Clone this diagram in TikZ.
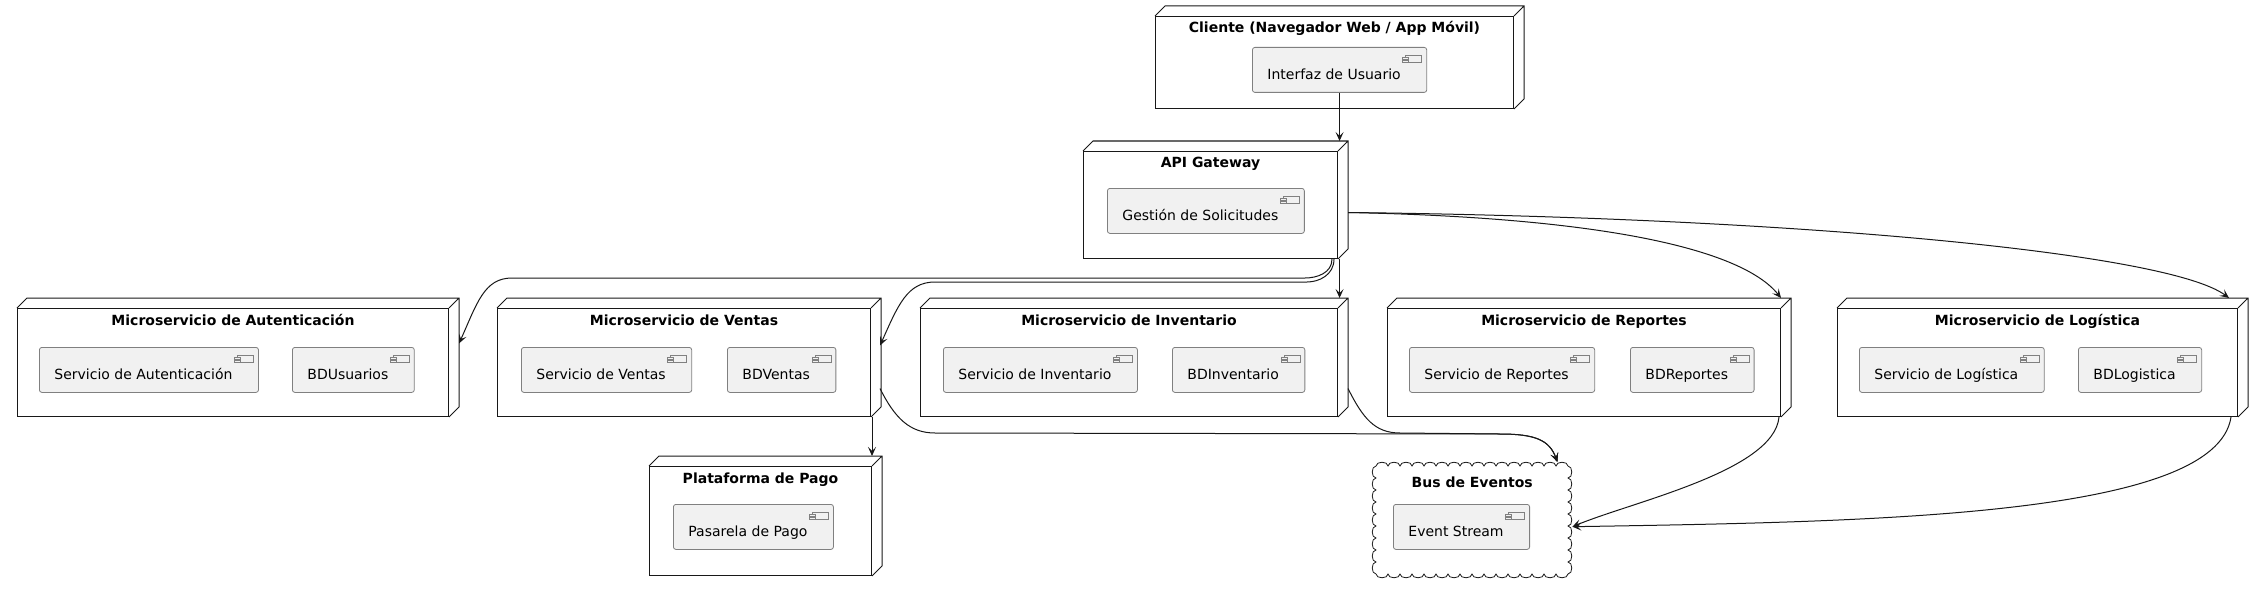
\documentclass[tikz,border=0pt]{standalone}
\usepackage{fontspec}
\setmainfont{DejaVu Sans}
\usetikzlibrary{arrows.meta,calc}
\definecolor{ink}{HTML}{181818}
\definecolor{compfill}{HTML}{F1F1F1}
\definecolor{compline}{HTML}{808080}
\newcommand{\deep}[1]{\draw[ink, line width=1pt] (#1.north west) -- ++(10pt,10pt) -| ([shift={(10pt,10pt)}]#1.south east) -- (#1.south east) (#1.north east) -- ++(10pt,10pt);}
\newcommand{\puff}[1]{\draw[ink, line width=0.8pt] (#1.north west)
  \foreach \k in {1,...,16} { .. controls +(0pt,5pt) and +(0pt,5pt) .. ++(12pt,0pt) }
  \foreach \k in {1,...,9} { .. controls +(5pt,0pt) and +(5pt,0pt) .. ++(0pt,-12pt) }
  \foreach \k in {1,...,16} { .. controls +(0pt,-5pt) and +(0pt,-5pt) .. ++(-12pt,0pt) }
  \foreach \k in {1,...,9} { .. controls +(-5pt,0pt) and +(-5pt,0pt) .. ++(0pt,12pt) } -- cycle;}
\tikzset{
  dnode/.style={draw=ink, line width=1pt, inner sep=0pt, anchor=north west},
  cloudbox/.style={inner sep=0pt, anchor=north west},
  ntitle/.style={anchor=base, inner sep=0pt, font=\bfseries\fontsize{14}{16}\selectfont},
  comp/.style={draw=compline, line width=0.8pt, fill=compfill, rounded corners=2.5pt, anchor=north west, inner sep=0pt,
    text height=32pt, text depth=13pt, execute at begin node=\hspace*{15pt}, execute at end node=\hspace*{26pt},
    path picture={
      \draw[compline, line width=0.7pt, sharp corners] ([shift={(-21pt,-8pt)}]path picture bounding box.north east) rectangle ++(16pt,-7pt);
      \draw[compline, line width=0.7pt, sharp corners, fill=compfill] ([shift={(-24pt,-9.5pt)}]path picture bounding box.north east) rectangle ++(6pt,-2pt);
      \draw[compline, line width=0.7pt, sharp corners, fill=compfill] ([shift={(-24pt,-12.5pt)}]path picture bounding box.north east) rectangle ++(6pt,-2pt);}},
  conn/.style={draw=ink, line width=1pt, -{Stealth[length=9pt,width=8pt,inset=4pt]}}
}
\begin{document}
\begin{tikzpicture}[x=1pt, y=-1pt, font=\fontsize{14}{16}\selectfont]
\useasboundingbox (0,0) rectangle (2261,591);
\node [dnode, minimum width=358, minimum height=92] (cliente) at (1155,16) {};
\deep{cliente}
\node [ntitle] (tcliente) at ([yshift=-17pt]cliente.north) {Cliente (Navegador Web / App Móvil)};
\node [comp] (interfaz) at (1252,47) {Interfaz de Usuario};
\node [dnode, minimum width=254, minimum height=107] (api) at (1083,151) {};
\deep{api}
\node [ntitle] (tapi) at ([yshift=-16pt]api.north) {API Gateway};
\node [comp] (gestion) at (1107,188) {Gestión de Solicitudes};
\node [dnode, minimum width=431, minimum height=108] (auth) at (17,308) {};
\deep{auth}
\node [ntitle] (tauth) at ([yshift=-17pt]auth.north) {Microservicio de Autenticación};
\node [comp] (sauth) at (39,347) {Servicio de Autenticación};
\node [comp] (bdusuarios) at (292,347) {BDUsuarios};
\node [dnode, minimum width=373, minimum height=108] (ventas) at (497,308) {};
\deep{ventas}
\node [ntitle] (tventas) at ([yshift=-17pt]ventas.north) {Microservicio de Ventas};
\node [comp] (sventas) at (521,347) {Servicio de Ventas};
\node [comp] (bdventas) at (727,347) {BDVentas};
\node [dnode, minimum width=417, minimum height=108] (inventario) at (920,308) {};
\deep{inventario}
\node [ntitle] (tinventario) at ([yshift=-17pt]inventario.north) {Microservicio de Inventario};
\node [comp] (sinventario) at (943,347) {Servicio de Inventario};
\node [comp] (bdinventario) at (1172,347) {BDInventario};
\node [dnode, minimum width=393, minimum height=108] (reportes) at (1387,308) {};
\deep{reportes}
\node [ntitle] (treportes) at ([yshift=-17pt]reportes.north) {Microservicio de Reportes};
\node [comp] (sreportes) at (1409,347) {Servicio de Reportes};
\node [comp] (bdreportes) at (1630,347) {BDReportes};
\node [dnode, minimum width=400, minimum height=108] (logistica) at (1837,308) {};
\deep{logistica}
\node [ntitle] (tlogistica) at ([yshift=-17pt]logistica.north) {Microservicio de Logística};
\node [comp] (slogistica) at (1859,347) {Servicio de Logística};
\node [comp] (bdlogistica) at (2078,347) {BDLogistica};
\node [dnode, minimum width=222, minimum height=109] (pago) at (649,466) {};
\deep{pago}
\node [ntitle] (tpago) at ([yshift=-17pt]pago.north) {Plataforma de Pago};
\node [comp] (pasarela) at (673,504) {Pasarela de Pago};
\node [cloudbox, minimum width=192, minimum height=108] (bus) at (1376,466) {};
\puff{bus}
\node [ntitle] (tbus) at ([yshift=-21pt]bus.north) {Bus de Eventos};
\node [comp] (stream) at (1393,504) {Event Stream};
\coordinate (apitop) at ([yshift=10pt]api.north);
\coordinate (invtop) at ([yshift=10pt]inventario.north);
\draw [conn] (interfaz.south) -- (interfaz.south |- apitop);
\draw [conn] ([xshift=-6pt]api.south east) .. controls +(0,14) and +(12,0) .. (1305,278) -- (512,278) .. controls +(-28,0) and +(18,-40) .. ([shift={(10pt,19pt)}]auth.east);
\draw [conn] ([xshift=-4pt]api.south east) .. controls +(0,16) and +(12,0) .. (1307,282) -- (935,282) .. controls +(-28,0) and +(18,-40) .. ([shift={(9pt,17pt)}]ventas.east);
\draw [conn] (interfaz.south |- api.south) -- (interfaz.south |- invtop);
\draw [conn] ([shift={(10pt,-7.5pt)}]api.east) .. controls +(250,5) and +(-40,-50) .. ([yshift=10pt]reportes.north east);
\draw [conn] ([shift={(10pt,-7.5pt)}]api.east) .. controls +(450,5) and +(-60,-45) .. ([shift={(-9pt,10pt)}]logistica.north east);
\draw [conn] (pago.north east |- ventas.south) -- ([yshift=10pt]pago.north east);
\draw [conn] ([shift={(9pt,-26pt)}]ventas.east) .. controls +(15,30) and +(-25,0) .. (935,433) -- (1500,434) .. controls +(35,0) and +(-8,-22) .. ([shift={(-11pt,4pt)}]bus.north east);
\draw [conn] ([shift={(10pt,-26pt)}]inventario.east) .. controls +(15,30) and +(-25,0) .. (1400,433) -- (1500,434) .. controls +(35,0) and +(-8,-22) .. ([shift={(-11pt,4pt)}]bus.north east);
\draw [conn] ([xshift=-2pt]reportes.south east) .. controls +(-5,54) and +(60,-25) .. ([shift={(4pt,-6.5pt)}]bus.east);
\draw [conn] ([xshift=-7pt]logistica.south east) .. controls +(-15,100) and +(300,-5) .. ([shift={(4pt,-6.5pt)}]bus.east);
\end{tikzpicture}
\end{document}
